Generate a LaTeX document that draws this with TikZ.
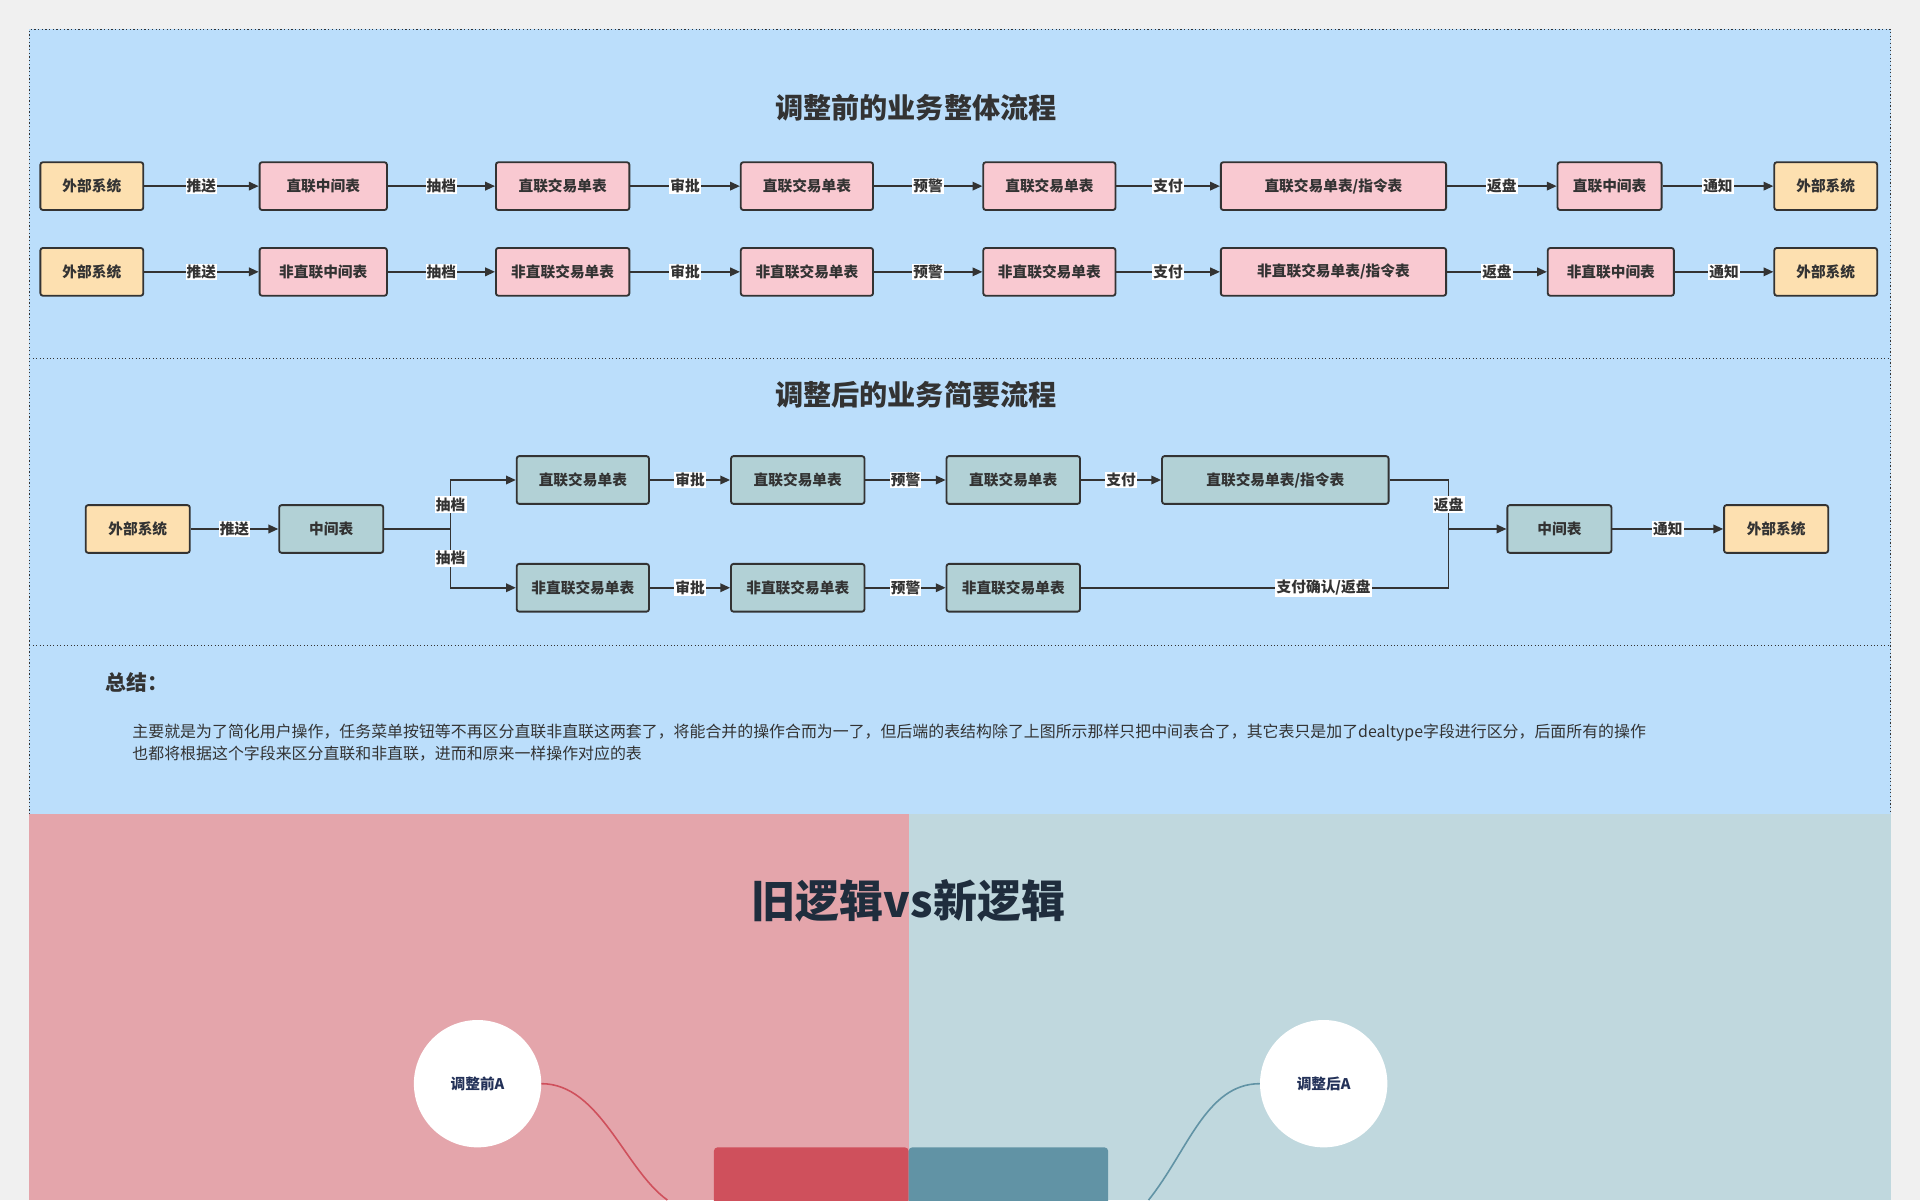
\documentclass[tikz,border=0pt]{standalone}
\usepackage{fontspec}
\setmainfont{Noto Sans CJK SC}
\usetikzlibrary{arrows.meta}
\definecolor{panel}{HTML}{BBDEFB}
\definecolor{pinkb}{HTML}{F9C9D1}
\definecolor{orb}{HTML}{FDE0B0}
\definecolor{teb}{HTML}{B2D1D6}
\definecolor{dk}{HTML}{333333}
\definecolor{oldbg}{HTML}{E4A5AB}
\definecolor{newbg}{HTML}{C0D8DE}
\definecolor{oldc}{HTML}{CF505C}
\definecolor{newc}{HTML}{6193A5}
\definecolor{ttl}{HTML}{1F2D3D}
\definecolor{navy}{HTML}{233158}
\begin{document}
\begin{tikzpicture}[x=1pt,y=-1pt,
 bx/.style={draw=dk,line width=1.5pt,rounded corners=2pt,minimum height=39pt,inner sep=0pt,font=\fontsize{12}{12}\selectfont\bfseries,text=dk},
 ob/.style={bx,fill=orb},pb/.style={bx,fill=pinkb},tb/.style={bx,fill=teb},
 ar/.style={draw=dk,line width=1.3pt,-{Triangle[length=8pt,width=7pt]}},
 ln/.style={draw=dk,line width=1.3pt},
 lb/.style={fill=white,inner sep=1pt,font=\fontsize{12}{12}\selectfont\bfseries,text=dk}]
\useasboundingbox (0,0) rectangle (1568,980);
\fill[black!6] (0,0) rectangle (1568,980);
\fill[panel] (24,24) rectangle (1544,665);
\draw[dk,line width=1pt,dotted] (24,665) -- (24,24) -- (1544,24) -- (1544,665);
\draw[dk,line width=0.8pt,dotted] (24,293) -- (1544,293) (24,527) -- (1544,527);
\node[font=\fontsize{23}{23}\selectfont\bfseries,text=dk] (t1) at (748,88) {调整前的业务整体流程};
\node[font=\fontsize{23}{23}\selectfont\bfseries,text=dk] (t2) at (748,322) {调整后的业务简要流程};
% row 1
\foreach \r/\y/\p in {a/152/, b/222/非}{
 \node[ob,minimum width=84pt] (\r1) at (75,\y) {外部系统};
 \node[pb,minimum width=104pt] (\r2) at (264,\y) {\p 直联中间表};
 \node[pb,minimum width=109pt] (\r3) at (459.5,\y) {\p 直联交易单表};
 \node[pb,minimum width=108pt] (\r4) at (659,\y) {\p 直联交易单表};
 \node[pb,minimum width=108pt] (\r5) at (857,\y) {\p 直联交易单表};
 \node[pb,minimum width=184pt] (\r6) at (1089,\y) {\p 直联交易单表/指令表};
 \node[ob,minimum width=84pt] (\r8) at (1491,\y) {外部系统};
}
\node[pb,minimum width=85pt] (a7) at (1314.5,152) {直联中间表};
\node[pb,minimum width=103pt] (b7) at (1315.5,222) {非直联中间表};
\foreach \r in {a,b}{
 \draw[ar] (\r1) -- node[lb]{推送} (\r2);
 \draw[ar] (\r2) -- node[lb]{抽档} (\r3);
 \draw[ar] (\r3) -- node[lb]{审批} (\r4);
 \draw[ar] (\r4) -- node[lb]{预警} (\r5);
 \draw[ar] (\r5) -- node[lb]{支付} (\r6);
 \draw[ar] (\r6) -- node[lb]{返盘} (\r7);
 \draw[ar] (\r7) -- node[lb]{通知} (\r8);
}
% section 2
\node[ob,minimum width=85pt] (c1) at (112.5,432) {外部系统};
\node[tb,minimum width=85pt] (c2) at (270.5,432) {中间表};
\node[tb,minimum width=108pt] (u1) at (476,392) {直联交易单表};
\node[tb,minimum width=109pt] (u2) at (651.5,392) {直联交易单表};
\node[tb,minimum width=109pt] (u3) at (827.5,392) {直联交易单表};
\node[tb,minimum width=185pt] (u4) at (1041.5,392) {直联交易单表/指令表};
\node[tb,minimum width=108pt] (d1) at (476,480) {非直联交易单表};
\node[tb,minimum width=109pt] (d2) at (651.5,480) {非直联交易单表};
\node[tb,minimum width=109pt] (d3) at (827.5,480) {非直联交易单表};
\node[tb,minimum width=85pt] (c3) at (1273.5,432) {中间表};
\node[ob,minimum width=85pt] (c4) at (1450.5,432) {外部系统};
\coordinate (sp) at (368,432);
\coordinate (jn) at (1183,432);
\draw[ar] (c1) -- node[lb]{推送} (c2);
\draw[ln] (c2) -- (sp);
\draw[ar] (sp) -- node[lb,pos=0.5]{抽档} (sp|-u1) -- (u1);
\draw[ar] (sp) -- node[lb,pos=0.5]{抽档} (sp|-d1) -- (d1);
\draw[ar] (u1) -- node[lb]{审批} (u2);
\draw[ar] (u2) -- node[lb]{预警} (u3);
\draw[ar] (u3) -- node[lb]{支付} (u4);
\draw[ar] (d1) -- node[lb]{审批} (d2);
\draw[ar] (d2) -- node[lb]{预警} (d3);
\draw[ln] (u4) -- (jn|-u4) -- node[lb]{返盘} (jn);
\draw[ln] (d3) -- node[lb,pos=0.66]{支付确认/返盘} (jn|-d3) -- (jn);
\draw[ar] (jn) -- (c3);
\draw[ar] (c3) -- node[lb]{通知} (c4);
% summary
\node[anchor=west,font=\fontsize{17}{17}\selectfont\bfseries,text=dk] (sm) at (83,557) {总结：};
\node[anchor=north west,align=left,inner sep=0pt,font=\fontsize{13}{18}\selectfont,text=dk] (st) at (108,591) {主要就是为了简化用户操作，任务菜单按钮等不再区分直联非直联这两套了，将能合并的操作合而为一了，但后端的表结构除了上图所示那样只把中间表合了，其它表只是加了dealtype字段进行区分，后面所有的操作\\也都将根据这个字段来区分直联和非直联，进而和原来一样操作对应的表};
% bottom
\fill[oldbg] (24,665) rectangle (742,980);
\fill[newbg] (742,665) rectangle (1544,980);
\node[font=\fontsize{36}{36}\selectfont\bfseries,text=ttl] (t3) at (742,736) {旧逻辑vs新逻辑};
\node[circle,fill=white,minimum size=104pt,inner sep=0pt,font=\fontsize{12}{12}\selectfont\bfseries,text=navy] (ca) at (390,885) {调整前A};
\node[circle,fill=white,minimum size=104pt,inner sep=0pt,font=\fontsize{12}{12}\selectfont\bfseries,text=navy] (cb) at (1081,885) {调整后A};
\fill[oldc,rounded corners=3pt] (583,937) rectangle (742,990);
\fill[newc,rounded corners=3pt] (742,937) rectangle (905,990);
\coordinate (ea) at (545,980);
\coordinate (eb) at (938,980);
\draw[oldc,line width=1.3pt] (ca.east) .. controls (490,885) and (510,955) .. (ea);
\draw[newc,line width=1.3pt] (cb.west) .. controls (985,885) and (970,940) .. (eb);
\end{tikzpicture}
\end{document}
